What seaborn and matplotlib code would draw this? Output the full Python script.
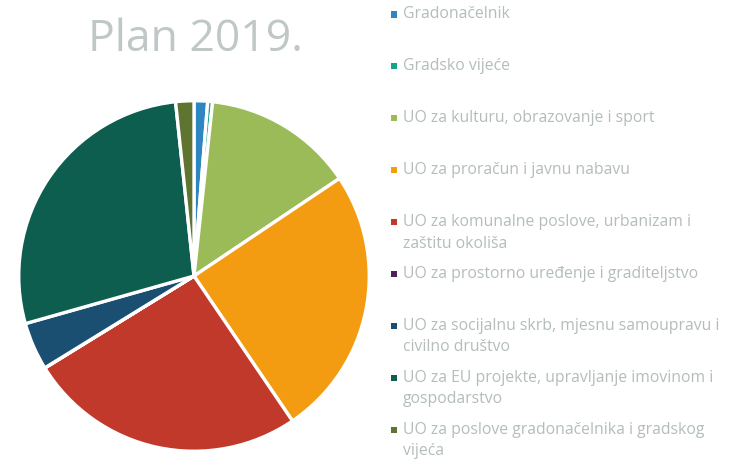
import matplotlib
matplotlib.use("Agg")
import matplotlib.pyplot as plt
from matplotlib.patches import Rectangle
import seaborn as sns

# data (shares in %)
labels = [
    "Gradonačelnik",
    "Gradsko vijeće",
    "UO za kulturu, obrazovanje i sport",
    "UO za proračun i javnu nabavu",
    "UO za komunalne poslove, urbanizam i\nzaštitu okoliša",
    "UO za prostorno uređenje i graditeljstvo",
    "UO za socijalnu skrb, mjesnu samoupravu i\ncivilno društvo",
    "UO za EU projekte, upravljanje imovinom i\ngospodarstvo",
    "UO za poslove gradonačelnika i gradskog\nvijeća",
]
shares = [1.25, 0.45, 13.9, 24.9, 25.7, 0.02, 4.4, 27.7, 1.68]
colors = ["#2E86C1", "#17A589", "#9BBB59", "#F39C12", "#C0392B",
          "#4A235A", "#1B4F72", "#0E5E4F", "#5E7430"]

sns.set_theme(style="white")
plt.rcParams["font.family"] = ["Open Sans", "DejaVu Sans"]

W, H = 734, 462
fig = plt.figure(figsize=(W / 100, H / 100), dpi=100)
ax = fig.add_axes([17 / W, (H - 276 - 177) / H, 354 / W, 354 / H])
ax.pie(shares, colors=colors, startangle=90, counterclock=False,
       wedgeprops=dict(edgecolor="white", linewidth=2.4))
ax.set_xlim(-1.01, 1.01)
ax.set_ylim(-1.01, 1.01)
ax.set_aspect("equal")
ax.axis("off")

fig.text(195 / W, 1 - 40 / H, "Plan 2019.", ha="center", va="center",
         fontsize=32, color="#BFC8C7")

# legend, one slot per entry
text_grey = "#B4BDBC"
for i, (lab, col) in enumerate(zip(labels, colors)):
    y_px = 14.5 + i * 51.9
    fig.add_artist(Rectangle((391 / W, 1 - (y_px + 3) / H), 6 / W, 6 / H,
                             transform=fig.transFigure, color=col, lw=0))
    fig.text(403 / W, 1 - (y_px - 8) / H, lab, color=text_grey, fontsize=11.3,
             va="top", ha="left", linespacing=1.45)

fig.savefig("out.png", dpi=100)
